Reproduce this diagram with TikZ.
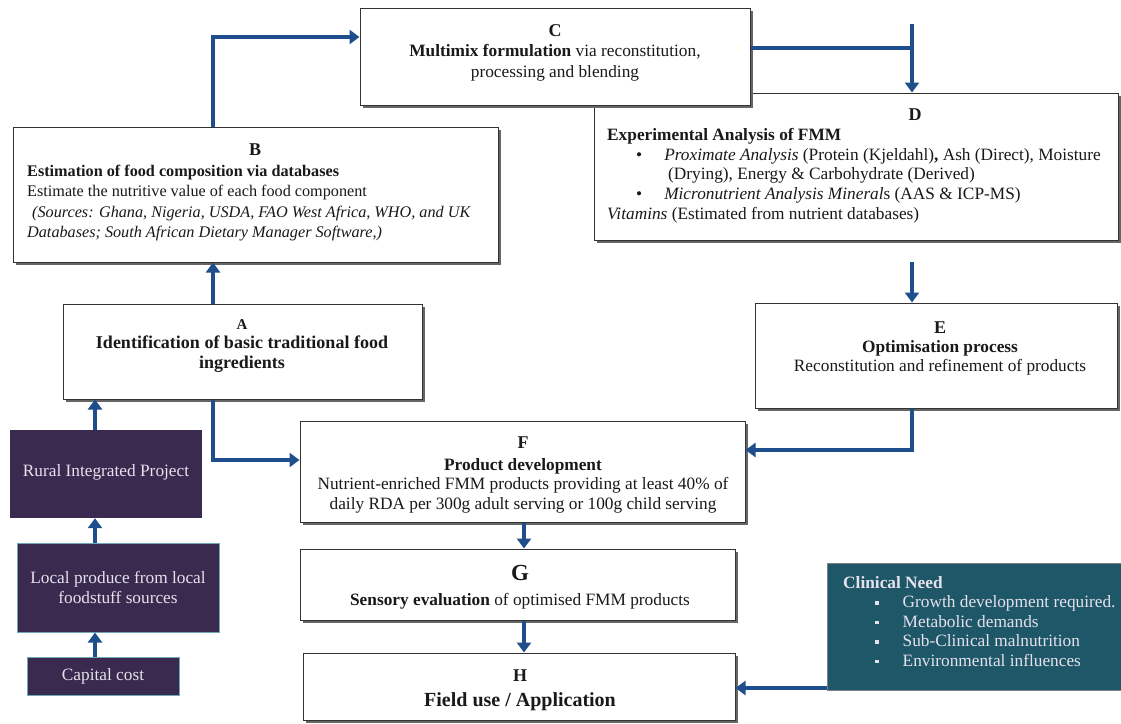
\documentclass[tikz,border=0pt]{standalone}
\usepackage{fontspec}
\setmainfont{Liberation Serif}
\usetikzlibrary{arrows.meta,shadows}

\definecolor{flowblue}{HTML}{1F4E8C}
\definecolor{ruralpurple}{HTML}{3A2A4F}
\definecolor{clinteal}{HTML}{1E5868}
\definecolor{paletext}{HTML}{E6E1EC}
\definecolor{tealedge}{HTML}{6FA6B8}

\tikzset{
  stage/.style={draw=black!80, line width=1pt, fill=white,
    drop shadow={shadow xshift=2.5pt, shadow yshift=-2.5pt, fill=black!60, opacity=1}},
  source/.style={fill=ruralpurple, text=paletext, align=center,
    font=\fontsize{17.3}{20}\selectfont},
  flow/.style={draw=flowblue, line width=4pt, -{Triangle[width=14pt,length=10pt]}},
  flowline/.style={draw=flowblue, line width=4pt},
  txt/.style={inner sep=0pt, text=black!90, font=\fontsize{17.3}{20}\selectfont},
  letter/.style={txt, font=\fontsize{18}{20}\bfseries},
}

\begin{document}
\begin{tikzpicture}[x=1pt,y=-1pt] % Multimix product development flow
  \useasboundingbox (0,0) rectangle (1121,723);

  % stage boxes
  \node[stage, minimum width=524, minimum height=147] (D) at (856,166.5) {};
  \node[stage, minimum width=390, minimum height=97] (C) at (555,56.5) {};
  \node[stage, minimum width=485, minimum height=135] (B) at (255.5,194.5) {};
  \node[stage, minimum width=359, minimum height=95] (A) at (242.5,351.5) {};
  \node[stage, minimum width=362, minimum height=105] (E) at (936,355.5) {};
  \node[stage, minimum width=445, minimum height=101] (F) at (522.5,471.5) {};
  \node[stage, minimum width=435, minimum height=71] (G) at (517.5,584.5) {};
  \node[stage, minimum width=432, minimum height=67] (H) at (519,686.5) {};

  % left column and clinical need
  \node[source, minimum width=192, minimum height=88] (rural) at (106,474)
    {\raisebox{7pt}{Rural Integrated Project}};
  \node[source, draw=tealedge, line width=1pt, minimum width=202, minimum height=89] (local) at (118,587.5)
    {Local produce from local\\foodstuff sources};
  \node[source, draw=tealedge, line width=1pt, minimum width=152, minimum height=38] (capital) at (103,676)
    {Capital cost};
  \node[fill=clinteal, draw=black!50, minimum width=296, minimum height=127] (clinic) at (975,626.5) {};

  % texts
  \node[letter] (Cl) at (555,31) {C};
  \node[txt, anchor=north, align=center, font=\fontsize{17.3}{21}\selectfont] (Ct) at (555,44)
    {\textbf{Multimix formulation} via reconstitution,\\processing and blending};

  \node[letter] (Bl) at (255,150) {B};
  \node[txt, anchor=north west, align=left, font=\fontsize{16.2}{20.5}\selectfont] (Bt) at (27,164.5)
    {\textbf{Estimation of food composition via databases}\\
     Estimate the nutritive value of each food component\\
     \hspace*{5pt}\textit{(Sources: Ghana, Nigeria, USDA, FAO West Africa, WHO, and UK}\\
     \textit{Databases; South African Dietary Manager Software,)}};

  \node[letter] (Dl) at (915,115) {D};
  \node[txt, anchor=north west, align=left, font=\fontsize{17.3}{19.75}\selectfont] (Dt) at (607,128)
    {\textbf{Experimental Analysis of FMM}\\
     \hspace*{29pt}\textbullet\hspace{22pt}\textit{Proximate Analysis} (Protein (Kjeldahl)\textbf{,} Ash (Direct), Moisture\\
     \hspace*{61pt}(Drying), Energy \& Carbohydrate (Derived)\\
     \hspace*{29pt}\textbullet\hspace{22pt}\textit{Micronutrient Analysis Mineral}s (AAS \& ICP-MS)\\
     \textit{Vitamins} (Estimated from nutrient databases)};

  \node[letter, font=\fontsize{15}{16}\bfseries] (Al) at (242,325) {A};
  \node[txt, anchor=north, align=center, font=\fontsize{18}{20}\bfseries] (At) at (242,335.5)
    {Identification of basic traditional food\\ingredients};

  \node[letter] (El) at (940,328) {E};
  \node[txt, anchor=north, align=center, font=\fontsize{17.3}{19.5}\selectfont] (Et) at (940,340)
    {\textbf{Optimisation process}\\Reconstitution and refinement of products};

  \node[letter] (Fl) at (523,443) {F};
  \node[txt, anchor=north, align=center, font=\fontsize{17.3}{19.5}\selectfont] (Ft) at (523,458)
    {\textbf{Product development}\\Nutrient-enriched FMM products providing at least 40\% of\\daily RDA per 300g adult serving or 100g child serving};

  \node[letter, font=\fontsize{23}{24}\bfseries] (Gl) at (520,573) {G};
  \node[txt, anchor=north] (Gt) at (520,593)
    {\textbf{Sensory evaluation} of optimised FMM products};

  \node[letter] (Hl) at (520,676) {H};
  \node[txt, anchor=north, font=\fontsize{20}{22}\bfseries] (Ht) at (520,692)
    {Field use / Application};

  \node[txt, anchor=north west, align=left, text=paletext, font=\fontsize{17.3}{19.5}\selectfont] (Kt) at (843,576)
    {\textbf{Clinical Need}\\
     \hspace*{32pt}\rule[3pt]{3.5pt}{3.5pt}\hspace{24pt}Growth development required.\\
     \hspace*{32pt}\rule[3pt]{3.5pt}{3.5pt}\hspace{24pt}Metabolic demands\\
     \hspace*{32pt}\rule[3pt]{3.5pt}{3.5pt}\hspace{24pt}Sub-Clinical malnutrition\\
     \hspace*{32pt}\rule[3pt]{3.5pt}{3.5pt}\hspace{24pt}Environmental influences};

  % connectors
  \coordinate (bc) at (213,37);
  \coordinate (cd) at (912,48);
  \coordinate (dt) at (912,24);
  \coordinate (de) at (912,262);
  \coordinate (ef) at (912,450);
  \coordinate (af) at (213,460);
  \coordinate (lx) at (95,0);
  \coordinate (fg) at (524,0);
  \coordinate (ch) at (0,688);

  \draw[flow] (B.north -| bc) |- (C.west |- bc);
  \draw[flowline] (C.east |- cd) -- (cd);
  \draw[flow] (dt) -- (D.north -| dt);
  \draw[flow] (A.north -| bc) -- (B.south -| bc);
  \draw[flow] (de) -- (E.north -| de);
  \draw[flow] (E.south -| ef) |- (F.east |- ef);
  \draw[flow] (A.south -| af) |- (F.west |- af);
  \draw[flow] (rural.north -| lx) -- (A.south -| lx);
  \draw[flow] (local.north -| lx) -- (rural.south -| lx);
  \draw[flow] (capital.north -| lx) -- (local.south -| lx);
  \draw[flow] (F.south -| fg) -- (G.north -| fg);
  \draw[flow] (G.south -| fg) -- (H.north -| fg);
  \draw[flow] (clinic.west |- ch) -- (H.east |- ch);
\end{tikzpicture}
\end{document}
